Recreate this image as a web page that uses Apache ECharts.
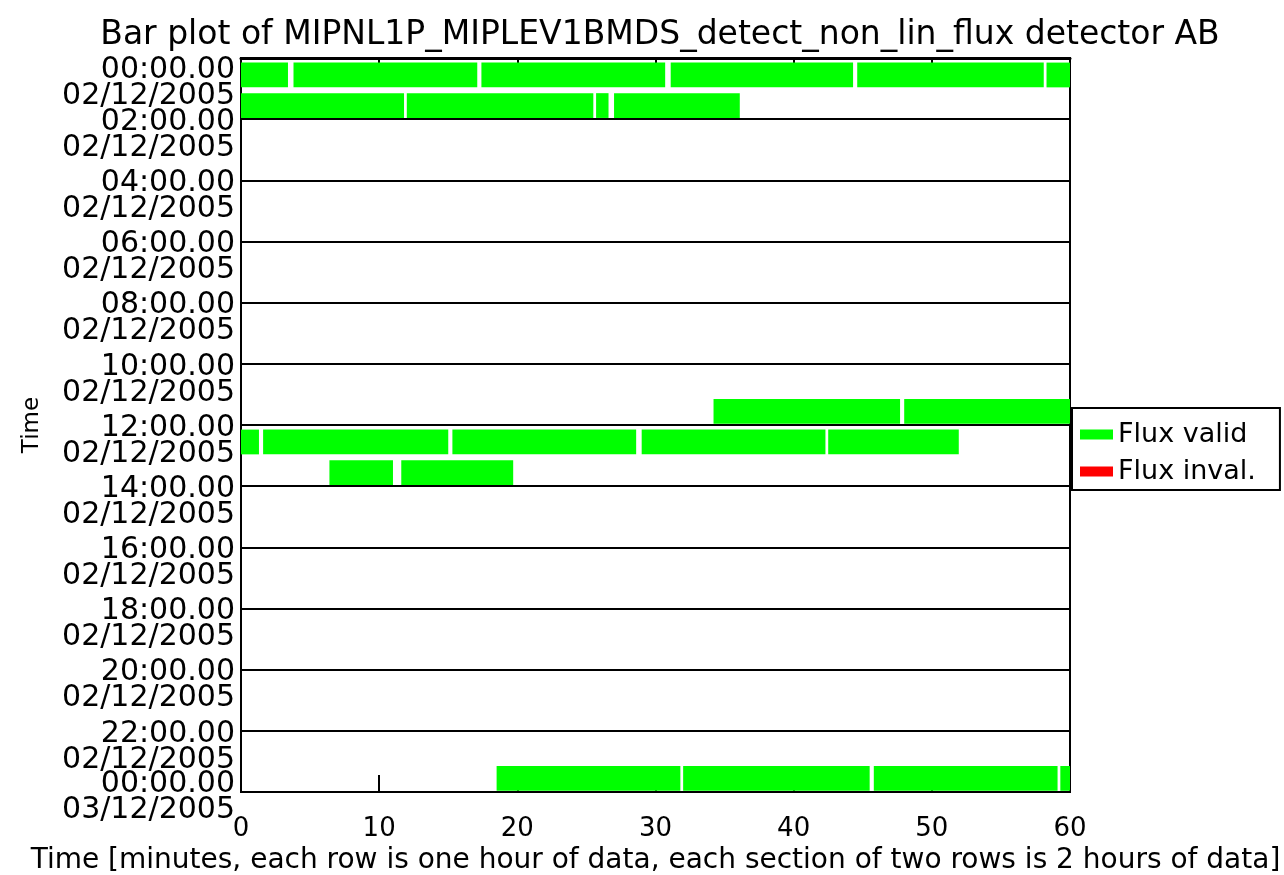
<!DOCTYPE html>
<html>
<head>
<meta charset="utf-8">
<script src="https://cdn.jsdelivr.net/npm/echarts@6/dist/echarts.min.js"></script>
<style>html,body{margin:0;padding:0;background:#fff}#c{width:1284px;height:875px}</style>
</head>
<body>
<div id="c"></div>
<script>
// ---- data ----
const titleText = 'Bar plot of MIPNL1P_MIPLEV1BMDS_detect_non_lin_flux detector AB';
const xAxisName = 'Time [minutes, each row is one hour of data, each section of two rows is 2 hours of data]';
const yAxisName = 'Time';
const seriesNames = ['Flux valid', 'Flux inval.'];
const dayLabels = ['02/12/2005', '03/12/2005'];
const xTicks = [0, 10, 20, 30, 40, 50, 60];
// valid flux segments: row = hour index (0..23), start/end in minutes
const validRow   = [0, 0, 0, 0, 0, 0,   1, 1, 1, 1,   11, 11,   12, 12, 12, 12, 12,   13, 13,   23, 23, 23, 23];
const validStart = [0, 3.8, 17.4, 31.1, 44.6, 58.3,   0, 12.0, 25.7, 27.0,   34.2, 48.0,   0, 1.6, 15.3, 29.0, 42.5,   6.4, 11.6,   18.5, 32.0, 45.8, 59.3];
const validEnd   = [3.4, 17.1, 30.7, 44.3, 58.1, 60,   11.8, 25.5, 26.6, 36.1,   47.7, 60,   1.3, 15.0, 28.6, 42.3, 51.95,   11.0, 19.7,   31.8, 45.5, 59.1, 60];
// invalid flux segments (none)
const invalidRow = [];
const invalidStart = [];
const invalidEnd = [];

const FONT = 'DejaVu Sans';
const validData = validRow.map((r, i) => [r, validStart[i], validEnd[i]]);
const invalidData = invalidRow.map((r, i) => [r, invalidStart[i], invalidEnd[i]]);

function renderSeg(params, api) {
  const row = api.value(0), s = api.value(1), e = api.value(2);
  const p1 = api.coord([s, row + 0.15]);
  const p2 = api.coord([e, row + 0.96]);
  return {
    type: 'rect',
    shape: { x: p1[0], y: Math.min(p1[1], p2[1]), width: p2[0] - p1[0], height: Math.abs(p2[1] - p1[1]) },
    style: { fill: api.visual('color') }
  };
}
function pad(n) { return (n < 10 ? '0' : '') + n; }

const YF = 30;
function rs(lh) { return { lineHeight: lh, fontSize: YF, fontFamily: FONT, color: '#000', align: 'right' }; }
const yRich = { eN: rs(32), eF: rs(51), eL: rs(10), t: rs(2), m: rs(24), d: rs(2) };
function yLabel(v, topKey) {
  const t = pad(v % 24) + ':00.00';
  const d = dayLabels[v >= 24 ? 1 : 0];
  return '{' + topKey + '| }\n{t|' + t + '}\n{m| }\n{d|' + d + '}';
}
const yCommon = {
  type: 'value', min: 0, max: 24, interval: 2, inverse: true, position: 'left', offset: 0,
  axisTick: { show: false }
};

const chart = echarts.init(document.getElementById('c'), null, { renderer: 'canvas' });
chart.setOption({
  animation: false,
  backgroundColor: '#fff',
  title: {
    text: titleText, left: 655, top: 14, textAlign: 'center',
    textStyle: { fontFamily: FONT, fontSize: 33, fontWeight: 'normal', color: '#000' }
  },
  legend: {
    orient: 'vertical', left: 1072, top: 408,
    data: seriesNames.map(n => ({ name: n, icon: 'rect' })),
    itemWidth: 33, itemHeight: 10, itemGap: 10,
    padding: [13, 24, 5, 8],
    borderColor: '#000', borderWidth: 2,
    textStyle: { fontFamily: FONT, fontSize: 27, color: '#000' }
  },
  grid: {
    left: 241, right: 214, top: 58, bottom: 83,
    show: true, borderColor: '#000', borderWidth: 2,
    outerBoundsMode: 'none', containLabel: false
  },
  xAxis: [{
    type: 'value', min: 0, max: 60, interval: 10, position: 'bottom',
    name: xAxisName, nameLocation: 'middle', nameGap: 55,
    nameTextStyle: { fontFamily: FONT, fontSize: 28, color: '#000' },
    axisLine: { show: true, onZero: false, lineStyle: { color: '#000', width: 2 } },
    axisTick: { show: true, inside: true, length: 17, lineStyle: { color: '#000', width: 2 } },
    axisLabel: { fontFamily: FONT, fontSize: 26, color: '#000', margin: 24,
      showMinLabel: true, showMaxLabel: true,
      formatter: v => xTicks.includes(v) ? String(v) : '' },
    splitLine: { show: false }
  }, {
    type: 'value', min: 0, max: 60, interval: 10, position: 'top',
    axisLine: { show: true, onZero: false, lineStyle: { color: '#000', width: 3 } },
    axisTick: { show: true, inside: true, length: 17, lineStyle: { color: '#000', width: 2 } },
    axisLabel: { show: false },
    splitLine: { show: false }
  }],
  yAxis: [Object.assign({}, yCommon, {
    name: yAxisName, nameLocation: 'middle', nameGap: 197, nameRotate: 90,
    nameTextStyle: { fontFamily: FONT, fontSize: 23, color: '#000' },
    axisLine: { show: true, onZero: false, lineStyle: { color: '#000', width: 2 } },
    splitLine: { show: true, lineStyle: { color: '#000', width: 2 } },
    axisLabel: {
      margin: 6, color: '#000', fontFamily: FONT, fontSize: YF,
      showMinLabel: false, showMaxLabel: false, hideOverlap: false,
      formatter: v => (v === 0 || v === 24) ? '' : yLabel(v, 'eN'),
      rich: yRich
    }
  }), Object.assign({}, yCommon, {
    axisLine: { show: false, onZero: false },
    splitLine: { show: false },
    axisLabel: {
      margin: 6, color: '#000', fontFamily: FONT, fontSize: YF,
      showMinLabel: true, showMaxLabel: true, hideOverlap: false,
      formatter: v => v === 0 ? yLabel(v, 'eF') : (v === 24 ? yLabel(v, 'eL') : ''),
      rich: yRich
    }
  })],
  series: [{
    name: seriesNames[0], type: 'custom', renderItem: renderSeg,
    itemStyle: { color: '#00ff00' },
    encode: { x: [1, 2], y: 0 },
    data: validData, z: 5
  }, {
    name: seriesNames[1], type: 'custom', renderItem: renderSeg,
    itemStyle: { color: '#ff0000' },
    encode: { x: [1, 2], y: 0 },
    data: invalidData, z: 5
  }]
});
</script>
</body>
</html>
